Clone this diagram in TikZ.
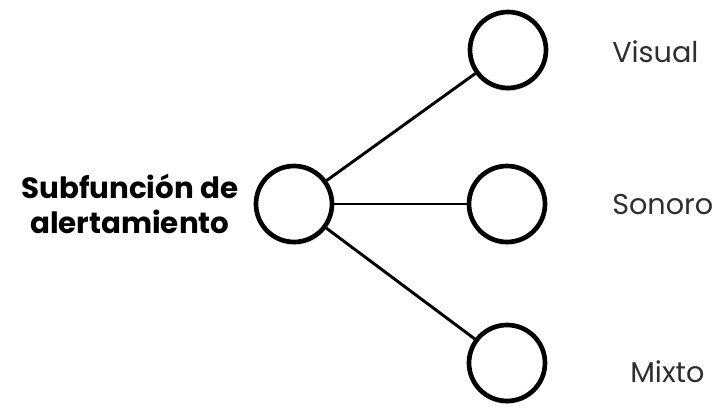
\documentclass[tikz,border=0pt]{standalone}
\usepackage{fontspec}
\setmainfont{Poppins}
\usetikzlibrary{positioning, shadows}
\tikzstyle{nodo} = [circle, minimum size=57pt, inner sep=0pt, draw=black, line width=3.5pt, fill=white, drop shadow={opacity=0.22, shadow xshift=0pt, shadow yshift=-2.5pt}]
\tikzstyle{etiqueta} = [font=\fontsize{21.5}{26}\selectfont, text=black!82, inner sep=0pt, anchor=west]
\tikzstyle{linea} = [line width=2.2pt]

\begin{document}
\begin{tikzpicture}[x=0.75pt, y=-0.75pt]
        \useasboundingbox (0,0) rectangle (722,410);

        % Nodo central
        \node (sub) [nodo] at (294,204) {};
        \node (tsub) [font=\fontsize{22}{26}\selectfont\bfseries, align=center, left=8pt of sub] {Subfunción de\\alertamiento};

        % Nodos de la derecha
        \node (vis) [nodo] at (508,50) {};
        \node (son) [nodo] at (507,204) {};
        \node (mix) [nodo] at (507,363) {};

        % Etiquetas
        \node (tvis) [etiqueta] at (612,52) {Visual};
        \node (tson) [etiqueta] at (612,205) {Sonoro};
        \node (tmix) [etiqueta] at (630,372) {Mixto};

        % Conexiones
        \draw [linea] (sub) -- (vis);
        \draw [linea] (sub) -- (son);
        \draw [linea] (sub) -- (mix);
    \end{tikzpicture}
\end{document}
